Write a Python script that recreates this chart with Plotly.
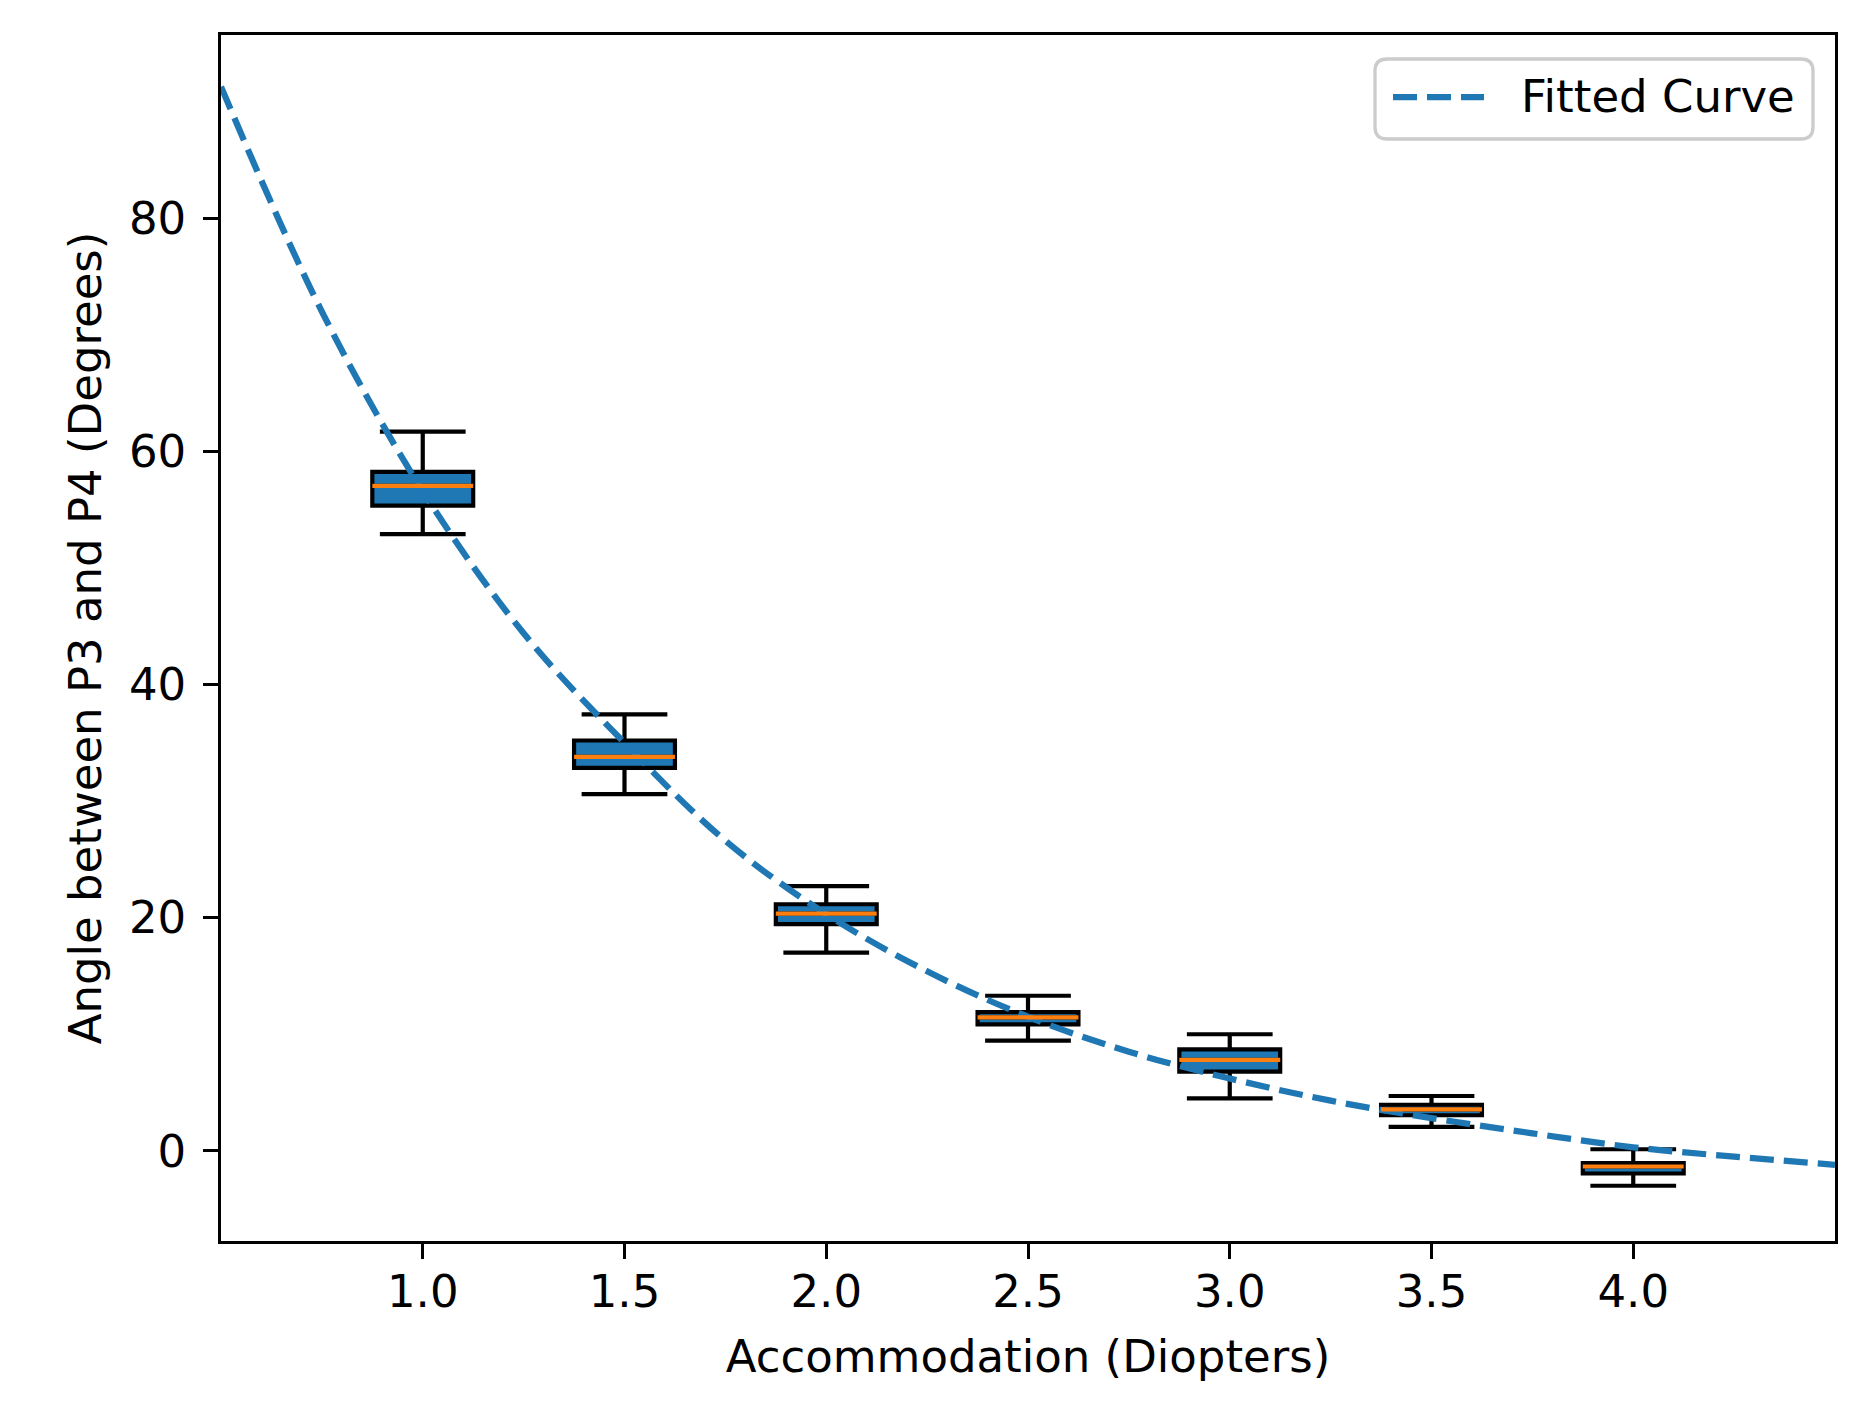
import plotly.graph_objects as go

# ---- data ----
accommodation = [1.0, 1.5, 2.0, 2.5, 3.0, 3.5, 4.0]
upper_whisker = [61.7, 37.45, 22.7, 13.3, 10.0, 4.7, 0.13]
q3_values = [58.25, 35.2, 21.15, 11.9, 8.7, 3.95, -1.05]
median_values = [57.05, 33.8, 20.35, 11.45, 7.8, 3.55, -1.35]
q1_values = [55.35, 32.85, 19.45, 10.85, 6.8, 3.05, -1.95]
lower_whisker = [52.9, 30.6, 17.0, 9.45, 4.5, 2.05, -3.0]

curve_x = [0.5, 0.75, 1.0, 1.25, 1.5, 1.75, 2.0, 2.25, 2.5, 2.75, 3.0, 3.25,
           3.5, 3.75, 4.0, 4.25, 4.5]
curve_y = [91.3, 72.0, 56.6, 44.4, 35.0, 26.6, 20.3, 15.4, 11.5, 8.5, 6.2, 4.3,
           2.8, 1.5, 0.3, -0.5, -1.2]

x_ticks = [1.0, 1.5, 2.0, 2.5, 3.0, 3.5, 4.0]
y_ticks = [0, 20, 40, 60, 80]

# ---- styling ----
# page body has an 8px margin, so the figure is 16px smaller than the window
W, H = 1848, 1398
L, T = 213, 27
PW, PH = 1614, 1206
R, B = W - L - PW, H - T - PH
FONT = "DejaVu Sans"
FS = 45
BOX_W = 0.25
BLUE = "#1f77b4"
ORANGE = "#ff7f0e"
OFF = 8  # body margin offset

fig = go.Figure()

fig.add_trace(go.Scatter(
    x=curve_x, y=curve_y, mode="lines", name="Fitted Curve",
    line=dict(color=BLUE, width=6.25, dash="24px,10px", shape="spline"),
    showlegend=False, hoverinfo="skip",
))

fig.add_trace(go.Box(
    x=accommodation, q1=q1_values, median=median_values, q3=q3_values,
    lowerfence=lower_whisker, upperfence=upper_whisker,
    width=BOX_W, whiskerwidth=0.85,
    fillcolor=BLUE, line=dict(color="black", width=4.2),
    boxpoints=False, showlegend=False,
))

# orange median lines
mx, my = [], []
for xv, mv in zip(accommodation, median_values):
    mx += [xv - BOX_W / 2, xv + BOX_W / 2, None]
    my += [mv, mv, None]
fig.add_trace(go.Scatter(x=mx, y=my, mode="lines",
                         line=dict(color=ORANGE, width=4.2),
                         showlegend=False, hoverinfo="skip"))

# ---- custom legend (paper coords, from window pixel positions) ----
def px(xp):
    return (xp - OFF - L) / PW
def py(yp):
    return (T + PH - (yp - OFF)) / PH

x0, x1, y0, y1, r = 1375, 1813, 59, 139, 12
rx, ry = r / PW, r / PH
path = (f"M{px(x0)+rx},{py(y0)} L{px(x1)-rx},{py(y0)} Q{px(x1)},{py(y0)} {px(x1)},{py(y0)-ry} "
        f"L{px(x1)},{py(y1)+ry} Q{px(x1)},{py(y1)} {px(x1)-rx},{py(y1)} "
        f"L{px(x0)+rx},{py(y1)} Q{px(x0)},{py(y1)} {px(x0)},{py(y1)+ry} "
        f"L{px(x0)},{py(y0)-ry} Q{px(x0)},{py(y0)} {px(x0)+rx},{py(y0)} Z")
fig.add_shape(type="path", path=path, xref="paper", yref="paper",
              line=dict(color="#cccccc", width=3.3),
              fillcolor="rgba(255,255,255,0.8)", layer="above")
fig.add_shape(type="line", xref="paper", yref="paper",
              x0=px(1393), x1=px(1484), y0=py(97), y1=py(97),
              line=dict(color=BLUE, width=6.25, dash="24px,10px"), layer="above")
fig.add_annotation(text="Fitted Curve", xref="paper", yref="paper",
                   x=px(1519), y=py(97), xanchor="left", yanchor="middle",
                   showarrow=False, font=dict(family=FONT, size=FS, color="black"))

axis_common = dict(
    showline=True, mirror=True, linecolor="black", linewidth=3.3,
    ticks="outside", ticklen=14.6, tickwidth=3.3, tickcolor="black",
    showgrid=False, zeroline=False,
    tickfont=dict(family=FONT, size=FS, color="black"),
)

fig.update_layout(
    width=W, height=H,
    margin=dict(l=L, r=R, t=T, b=B, autoexpand=False),
    paper_bgcolor="white", plot_bgcolor="white",
    font=dict(family=FONT, size=FS, color="black"),
    xaxis=dict(range=[0.5, 4.5], tickvals=x_ticks,
               ticktext=[f"{v:.1f}" for v in x_ticks],
               ticklabelstandoff=-6,
               title=dict(text="Accommodation (Diopters)",
                          font=dict(family=FONT, size=FS), standoff=24),
               **axis_common),
    yaxis=dict(range=[-7.74, 95.73], tickvals=y_ticks,
               ticklabelstandoff=8,
               title=dict(text="Angle between P3 and P4 (Degrees)",
                          font=dict(family=FONT, size=FS), standoff=14),
               **axis_common),
    showlegend=False,
)

fig.write_html("out.html")
